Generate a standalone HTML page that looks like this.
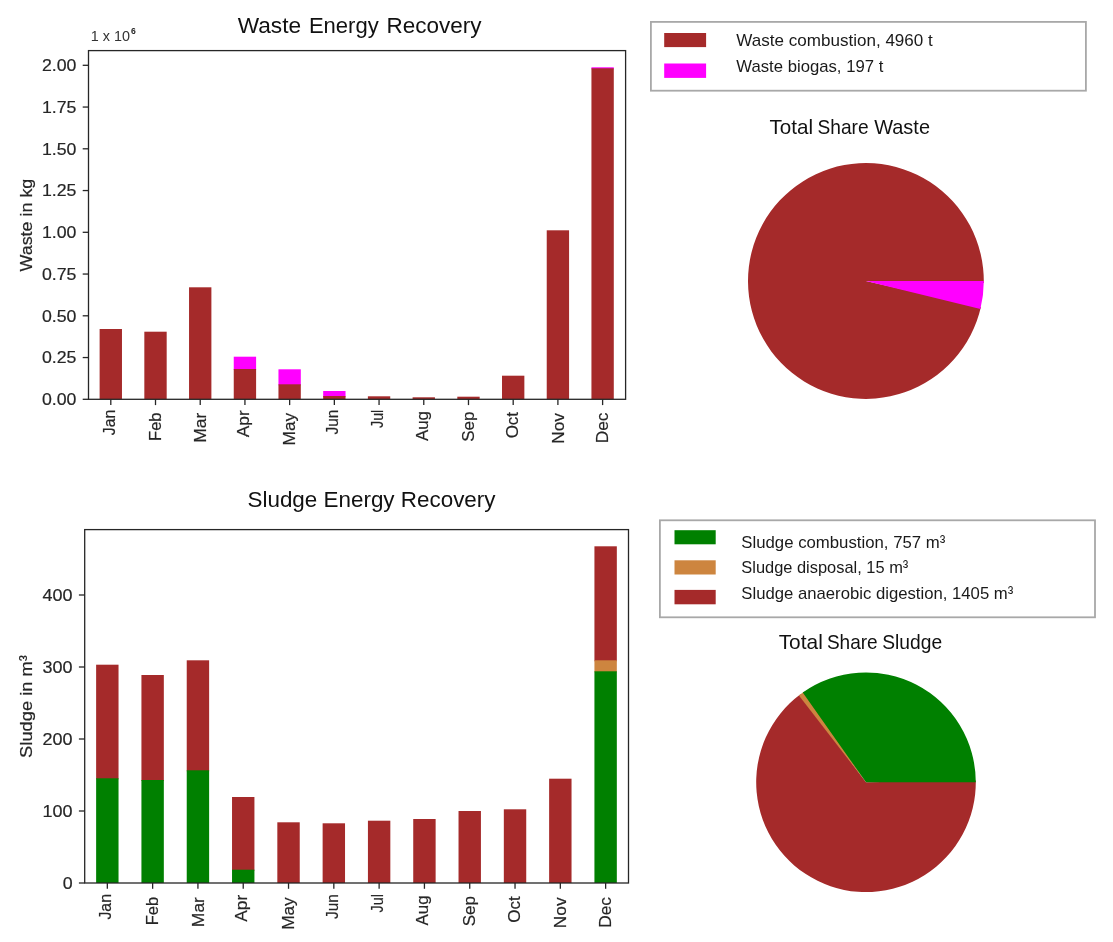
<!DOCTYPE html>
<html><head><meta charset="utf-8"><title>Energy Recovery</title>
<style>
html,body{margin:0;padding:0;background:#fff;}
body{width:1113px;height:942px;overflow:hidden;font-family:"Liberation Sans",sans-serif;}
svg{display:block;will-change:transform;transform:translateZ(0)}
text{font-family:"Liberation Sans",sans-serif;}
.tk{font-size:17.4px;fill:#262626;stroke:#262626;stroke-width:0.2px}
.mo{font-size:17.4px;fill:#262626;stroke:#262626;stroke-width:0.2px}
.yl{font-size:16.9px;fill:#262626;stroke:#262626;stroke-width:0.2px}
.lg{font-size:17px;fill:#1a1a1a}
.tt{fill:#111}
</style></head><body>
<svg width="1113" height="942" viewBox="0 0 1113 942">
<rect x="0" y="0" width="1113" height="942" fill="#ffffff"/>
<rect x="99.62" y="329.00" width="22.35" height="70.30" fill="#a52a2a"/>
<rect x="144.33" y="331.70" width="22.35" height="67.60" fill="#a52a2a"/>
<rect x="189.04" y="287.30" width="22.35" height="112.00" fill="#a52a2a"/>
<rect x="233.75" y="356.70" width="22.35" height="13.30" fill="#ff00ff"/>
<rect x="233.75" y="369.00" width="22.35" height="30.30" fill="#a52a2a"/>
<rect x="278.46" y="369.30" width="22.35" height="16.00" fill="#ff00ff"/>
<rect x="278.46" y="384.30" width="22.35" height="15.00" fill="#a52a2a"/>
<rect x="323.18" y="391.00" width="22.35" height="6.00" fill="#ff00ff"/>
<rect x="323.18" y="396.00" width="22.35" height="3.30" fill="#a52a2a"/>
<rect x="367.88" y="396.30" width="22.35" height="3.00" fill="#a52a2a"/>
<rect x="412.60" y="397.30" width="22.35" height="2.00" fill="#a52a2a"/>
<rect x="457.31" y="396.70" width="22.35" height="2.60" fill="#a52a2a"/>
<rect x="502.01" y="375.70" width="22.35" height="23.60" fill="#a52a2a"/>
<rect x="546.73" y="230.30" width="22.35" height="169.00" fill="#a52a2a"/>
<rect x="591.44" y="67.30" width="22.35" height="2.00" fill="#ff00ff"/>
<rect x="591.44" y="68.30" width="22.35" height="331.00" fill="#a52a2a"/>
<rect x="88.50" y="50.60" width="537.10" height="348.70" fill="none" stroke="#262626" stroke-width="1.3"/>
<line x1="110.80" y1="399.30" x2="110.80" y2="405.10" stroke="#262626" stroke-width="1.3"/>
<text class="mo" transform="translate(114.60,435.20) rotate(-90)" textLength="25.56" lengthAdjust="spacingAndGlyphs">Jan</text>
<line x1="155.51" y1="399.30" x2="155.51" y2="405.10" stroke="#262626" stroke-width="1.3"/>
<text class="mo" transform="translate(160.71,440.89) rotate(-90)" textLength="28.36" lengthAdjust="spacingAndGlyphs">Feb</text>
<line x1="200.22" y1="399.30" x2="200.22" y2="405.10" stroke="#262626" stroke-width="1.3"/>
<text class="mo" transform="translate(206.32,442.75) rotate(-90)" textLength="30.04" lengthAdjust="spacingAndGlyphs">Mar</text>
<line x1="244.93" y1="399.30" x2="244.93" y2="405.10" stroke="#262626" stroke-width="1.3"/>
<text class="mo" transform="translate(249.03,437.37) rotate(-90)" textLength="27.15" lengthAdjust="spacingAndGlyphs">Apr</text>
<line x1="289.64" y1="399.30" x2="289.64" y2="405.10" stroke="#262626" stroke-width="1.3"/>
<text class="mo" transform="translate(295.44,445.43) rotate(-90)" textLength="32.58" lengthAdjust="spacingAndGlyphs">May</text>
<line x1="334.35" y1="399.30" x2="334.35" y2="405.10" stroke="#262626" stroke-width="1.3"/>
<text class="mo" transform="translate(338.25,434.53) rotate(-90)" textLength="24.81" lengthAdjust="spacingAndGlyphs">Jun</text>
<line x1="379.06" y1="399.30" x2="379.06" y2="405.10" stroke="#262626" stroke-width="1.3"/>
<text class="mo" transform="translate(382.96,427.99) rotate(-90)" textLength="18.27" lengthAdjust="spacingAndGlyphs">Jul</text>
<line x1="423.77" y1="399.30" x2="423.77" y2="405.10" stroke="#262626" stroke-width="1.3"/>
<text class="mo" transform="translate(427.77,441.11) rotate(-90)" textLength="30.16" lengthAdjust="spacingAndGlyphs">Aug</text>
<line x1="468.48" y1="399.30" x2="468.48" y2="405.10" stroke="#262626" stroke-width="1.3"/>
<text class="mo" transform="translate(474.08,441.85) rotate(-90)" textLength="30.24" lengthAdjust="spacingAndGlyphs">Sep</text>
<line x1="513.19" y1="399.30" x2="513.19" y2="405.10" stroke="#262626" stroke-width="1.3"/>
<text class="mo" transform="translate(518.09,438.36) rotate(-90)" textLength="26.45" lengthAdjust="spacingAndGlyphs">Oct</text>
<line x1="557.90" y1="399.30" x2="557.90" y2="405.10" stroke="#262626" stroke-width="1.3"/>
<text class="mo" transform="translate(563.60,443.74) rotate(-90)" textLength="30.67" lengthAdjust="spacingAndGlyphs">Nov</text>
<line x1="602.61" y1="399.30" x2="602.61" y2="405.10" stroke="#262626" stroke-width="1.3"/>
<text class="mo" transform="translate(608.01,443.32) rotate(-90)" textLength="30.66" lengthAdjust="spacingAndGlyphs">Dec</text>
<line x1="82.70" y1="399.30" x2="88.50" y2="399.30" stroke="#262626" stroke-width="1.3"/>
<text class="tk" x="41.90" y="405.05" textLength="34.5" lengthAdjust="spacingAndGlyphs">0.00</text>
<line x1="82.70" y1="357.55" x2="88.50" y2="357.55" stroke="#262626" stroke-width="1.3"/>
<text class="tk" x="41.90" y="363.30" textLength="34.5" lengthAdjust="spacingAndGlyphs">0.25</text>
<line x1="82.70" y1="315.80" x2="88.50" y2="315.80" stroke="#262626" stroke-width="1.3"/>
<text class="tk" x="41.90" y="321.55" textLength="34.5" lengthAdjust="spacingAndGlyphs">0.50</text>
<line x1="82.70" y1="274.05" x2="88.50" y2="274.05" stroke="#262626" stroke-width="1.3"/>
<text class="tk" x="41.90" y="279.80" textLength="34.5" lengthAdjust="spacingAndGlyphs">0.75</text>
<line x1="82.70" y1="232.30" x2="88.50" y2="232.30" stroke="#262626" stroke-width="1.3"/>
<text class="tk" x="41.90" y="238.05" textLength="34.5" lengthAdjust="spacingAndGlyphs">1.00</text>
<line x1="82.70" y1="190.55" x2="88.50" y2="190.55" stroke="#262626" stroke-width="1.3"/>
<text class="tk" x="41.90" y="196.30" textLength="34.5" lengthAdjust="spacingAndGlyphs">1.25</text>
<line x1="82.70" y1="148.80" x2="88.50" y2="148.80" stroke="#262626" stroke-width="1.3"/>
<text class="tk" x="41.90" y="154.55" textLength="34.5" lengthAdjust="spacingAndGlyphs">1.50</text>
<line x1="82.70" y1="107.05" x2="88.50" y2="107.05" stroke="#262626" stroke-width="1.3"/>
<text class="tk" x="41.90" y="112.80" textLength="34.5" lengthAdjust="spacingAndGlyphs">1.75</text>
<line x1="82.70" y1="65.30" x2="88.50" y2="65.30" stroke="#262626" stroke-width="1.3"/>
<text class="tk" x="41.90" y="71.05" textLength="34.5" lengthAdjust="spacingAndGlyphs">2.00</text>
<text class="yl" transform="translate(31.6,271.50) rotate(-90)" textLength="92.8" lengthAdjust="spacingAndGlyphs">Waste in kg</text>
<text class="tt" x="237.7" y="33.4" font-size="22.5" textLength="63.4" lengthAdjust="spacingAndGlyphs">Waste</text>
<text class="tt" x="308.9" y="33.4" font-size="22.5" textLength="69.8" lengthAdjust="spacingAndGlyphs">Energy</text>
<text class="tt" x="386.5" y="33.4" font-size="22.5" textLength="95.0" lengthAdjust="spacingAndGlyphs">Recovery</text>
<text x="90.7" y="41.1" font-size="15.1" fill="#333" textLength="39.2" lengthAdjust="spacingAndGlyphs">1 x 10</text>
<text x="131.0" y="33.5" font-size="8.6" fill="#262626" font-weight="bold">6</text>
<rect x="96.13" y="664.70" width="22.40" height="114.60" fill="#a52a2a"/>
<rect x="96.13" y="778.30" width="22.40" height="104.70" fill="#008000"/>
<rect x="141.43" y="675.00" width="22.40" height="106.00" fill="#a52a2a"/>
<rect x="141.43" y="780.00" width="22.40" height="103.00" fill="#008000"/>
<rect x="186.73" y="660.30" width="22.40" height="111.00" fill="#a52a2a"/>
<rect x="186.73" y="770.30" width="22.40" height="112.70" fill="#008000"/>
<rect x="232.03" y="797.00" width="22.40" height="73.70" fill="#a52a2a"/>
<rect x="232.03" y="869.70" width="22.40" height="13.30" fill="#008000"/>
<rect x="277.33" y="822.30" width="22.40" height="60.70" fill="#a52a2a"/>
<rect x="322.63" y="823.30" width="22.40" height="59.70" fill="#a52a2a"/>
<rect x="367.93" y="820.70" width="22.40" height="62.30" fill="#a52a2a"/>
<rect x="413.23" y="819.00" width="22.40" height="64.00" fill="#a52a2a"/>
<rect x="458.53" y="811.00" width="22.40" height="72.00" fill="#a52a2a"/>
<rect x="503.83" y="809.30" width="22.40" height="73.70" fill="#a52a2a"/>
<rect x="549.13" y="778.70" width="22.40" height="104.30" fill="#a52a2a"/>
<rect x="594.43" y="546.30" width="22.40" height="115.00" fill="#a52a2a"/>
<rect x="594.43" y="660.30" width="22.40" height="12.00" fill="#cd853f"/>
<rect x="594.43" y="671.30" width="22.40" height="211.70" fill="#008000"/>
<rect x="84.70" y="529.60" width="543.80" height="353.40" fill="none" stroke="#262626" stroke-width="1.3"/>
<line x1="107.33" y1="883.00" x2="107.33" y2="888.80" stroke="#262626" stroke-width="1.3"/>
<text class="mo" transform="translate(111.13,919.60) rotate(-90)" textLength="25.56" lengthAdjust="spacingAndGlyphs">Jan</text>
<line x1="152.63" y1="883.00" x2="152.63" y2="888.80" stroke="#262626" stroke-width="1.3"/>
<text class="mo" transform="translate(157.83,925.29) rotate(-90)" textLength="28.36" lengthAdjust="spacingAndGlyphs">Feb</text>
<line x1="197.93" y1="883.00" x2="197.93" y2="888.80" stroke="#262626" stroke-width="1.3"/>
<text class="mo" transform="translate(204.03,927.15) rotate(-90)" textLength="30.04" lengthAdjust="spacingAndGlyphs">Mar</text>
<line x1="243.23" y1="883.00" x2="243.23" y2="888.80" stroke="#262626" stroke-width="1.3"/>
<text class="mo" transform="translate(247.33,921.77) rotate(-90)" textLength="27.15" lengthAdjust="spacingAndGlyphs">Apr</text>
<line x1="288.53" y1="883.00" x2="288.53" y2="888.80" stroke="#262626" stroke-width="1.3"/>
<text class="mo" transform="translate(294.33,929.83) rotate(-90)" textLength="32.58" lengthAdjust="spacingAndGlyphs">May</text>
<line x1="333.83" y1="883.00" x2="333.83" y2="888.80" stroke="#262626" stroke-width="1.3"/>
<text class="mo" transform="translate(337.73,918.93) rotate(-90)" textLength="24.81" lengthAdjust="spacingAndGlyphs">Jun</text>
<line x1="379.13" y1="883.00" x2="379.13" y2="888.80" stroke="#262626" stroke-width="1.3"/>
<text class="mo" transform="translate(383.03,912.39) rotate(-90)" textLength="18.27" lengthAdjust="spacingAndGlyphs">Jul</text>
<line x1="424.43" y1="883.00" x2="424.43" y2="888.80" stroke="#262626" stroke-width="1.3"/>
<text class="mo" transform="translate(428.43,925.51) rotate(-90)" textLength="30.16" lengthAdjust="spacingAndGlyphs">Aug</text>
<line x1="469.73" y1="883.00" x2="469.73" y2="888.80" stroke="#262626" stroke-width="1.3"/>
<text class="mo" transform="translate(475.33,926.25) rotate(-90)" textLength="30.24" lengthAdjust="spacingAndGlyphs">Sep</text>
<line x1="515.03" y1="883.00" x2="515.03" y2="888.80" stroke="#262626" stroke-width="1.3"/>
<text class="mo" transform="translate(519.93,922.76) rotate(-90)" textLength="26.45" lengthAdjust="spacingAndGlyphs">Oct</text>
<line x1="560.33" y1="883.00" x2="560.33" y2="888.80" stroke="#262626" stroke-width="1.3"/>
<text class="mo" transform="translate(566.03,928.14) rotate(-90)" textLength="30.67" lengthAdjust="spacingAndGlyphs">Nov</text>
<line x1="605.63" y1="883.00" x2="605.63" y2="888.80" stroke="#262626" stroke-width="1.3"/>
<text class="mo" transform="translate(611.03,927.72) rotate(-90)" textLength="30.66" lengthAdjust="spacingAndGlyphs">Dec</text>
<line x1="78.90" y1="883.00" x2="84.70" y2="883.00" stroke="#262626" stroke-width="1.3"/>
<text class="tk" x="62.70" y="888.75" textLength="9.9" lengthAdjust="spacingAndGlyphs">0</text>
<line x1="78.90" y1="811.00" x2="84.70" y2="811.00" stroke="#262626" stroke-width="1.3"/>
<text class="tk" x="42.60" y="816.75" textLength="30.0" lengthAdjust="spacingAndGlyphs">100</text>
<line x1="78.90" y1="739.00" x2="84.70" y2="739.00" stroke="#262626" stroke-width="1.3"/>
<text class="tk" x="42.60" y="744.75" textLength="30.0" lengthAdjust="spacingAndGlyphs">200</text>
<line x1="78.90" y1="667.00" x2="84.70" y2="667.00" stroke="#262626" stroke-width="1.3"/>
<text class="tk" x="42.60" y="672.75" textLength="30.0" lengthAdjust="spacingAndGlyphs">300</text>
<line x1="78.90" y1="595.00" x2="84.70" y2="595.00" stroke="#262626" stroke-width="1.3"/>
<text class="tk" x="42.60" y="600.75" textLength="30.0" lengthAdjust="spacingAndGlyphs">400</text>
<text class="yl" transform="translate(32.0,757.90) rotate(-90)" textLength="102.8" lengthAdjust="spacingAndGlyphs">Sludge in m³</text>
<text class="tt" x="247.5" y="506.6" font-size="22.5" textLength="248" lengthAdjust="spacingAndGlyphs">Sludge Energy Recovery</text>
<rect x="650.9" y="21.9" width="435.0000000000001" height="68.80000000000001" fill="#fff" stroke="#a8a8a8" stroke-width="1.8"/>
<rect x="664.2" y="33.0" width="41.89999999999998" height="14.100000000000001" fill="#a52a2a"/>
<text class="lg" x="736.3" y="45.9" textLength="196.5" lengthAdjust="spacingAndGlyphs">Waste combustion, 4960 t</text>
<rect x="664.2" y="63.5" width="41.89999999999998" height="14.400000000000006" fill="#ff00ff"/>
<text class="lg" x="736.3" y="71.5" textLength="147" lengthAdjust="spacingAndGlyphs">Waste biogas, 197 t</text>
<rect x="659.9" y="520.3" width="435.1" height="97.0" fill="#fff" stroke="#a8a8a8" stroke-width="1.8"/>
<rect x="674.5" y="530.2" width="41.200000000000045" height="14.099999999999909" fill="#008000"/>
<text class="lg" x="741.3" y="547.8" textLength="204" lengthAdjust="spacingAndGlyphs">Sludge combustion, 757 m³</text>
<rect x="674.5" y="560.3" width="41.200000000000045" height="14.200000000000045" fill="#cd853f"/>
<text class="lg" x="741.3" y="573.3" textLength="167" lengthAdjust="spacingAndGlyphs">Sludge disposal, 15 m³</text>
<rect x="674.5" y="589.9" width="41.200000000000045" height="14.399999999999977" fill="#a52a2a"/>
<text class="lg" x="741.3" y="598.8" textLength="272" lengthAdjust="spacingAndGlyphs">Sludge anaerobic digestion, 1405 m³</text>
<path d="M865.90,281.00 L983.78,283.06 A117.9,117.9 0 1 0 980.89,307.02 Z" fill="#a52a2a"/>
<path d="M865.90,281.00 L980.42,309.03 A117.9,117.9 0 0 0 983.80,281.00 Z" fill="#ff00ff"/>
<text class="tt" x="769.5" y="133.8" font-size="20.3" textLength="43.6" lengthAdjust="spacingAndGlyphs">Total</text>
<text class="tt" x="817.5" y="133.8" font-size="20.3" textLength="51.1" lengthAdjust="spacingAndGlyphs">Share</text>
<text class="tt" x="874.2" y="133.8" font-size="20.3" textLength="55.8" lengthAdjust="spacingAndGlyphs">Waste</text>
<path d="M866.00,782.30 L800.44,694.22 A109.8,109.8 0 1 0 975.78,780.38 Z" fill="#a52a2a"/>
<path d="M866.00,782.30 L804.31,691.47 A109.8,109.8 0 0 0 798.91,695.38 Z" fill="#cd853f"/>
<path d="M866.00,782.30 L975.80,782.30 A109.8,109.8 0 0 0 802.74,692.56 Z" fill="#008000"/>
<text class="tt" x="778.7" y="649.0" font-size="20.3" textLength="44.1" lengthAdjust="spacingAndGlyphs">Total</text>
<text class="tt" x="826.9" y="649.0" font-size="20.3" textLength="50.8" lengthAdjust="spacingAndGlyphs">Share</text>
<text class="tt" x="882.2" y="649.0" font-size="20.3" textLength="59.9" lengthAdjust="spacingAndGlyphs">Sludge</text>
</svg></body></html>
